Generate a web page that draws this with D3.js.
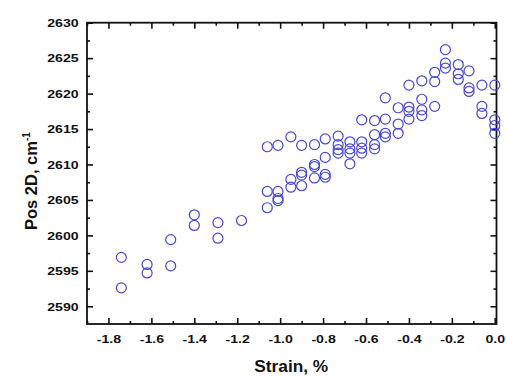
<!DOCTYPE html>
<html><head><meta charset="utf-8">
<script src="https://cdn.jsdelivr.net/npm/d3@7"></script>
<style>
body{margin:0;background:#fff;}
svg text{font-family:"Liberation Sans",Arial,sans-serif;font-weight:bold;fill:#111;}
</style></head>
<body><svg id="c" width="507" height="376"></svg>
<script>
const strain = [
 -1.74,-1.74,
 -1.62,-1.62,
 -1.51,-1.51,
 -1.40,-1.40,
 -1.29,-1.29,
 -1.18,
 -1.06,-1.06,-1.06,
 -1.01,-1.01,-1.01,-1.01,
 -0.95,-0.95,-0.95,
 -0.90,-0.90,-0.90,-0.90,
 -0.84,-0.84,-0.84,-0.84,
 -0.79,-0.79,-0.79,-0.79,
 -0.73,-0.73,-0.73,-0.73,
 -0.675,-0.675,-0.675,-0.675,
 -0.62,-0.62,-0.62,-0.62,
 -0.56,-0.56,-0.56,-0.56,
 -0.51,-0.51,-0.51,-0.51,
 -0.45,-0.45,-0.45,
 -0.40,-0.40,-0.40,-0.40,
 -0.34,-0.34,-0.34,-0.34,
 -0.28,-0.28,-0.28,
 -0.23,-0.23,-0.23,
 -0.17,-0.17,-0.17,
 -0.12,-0.12,-0.12,
 -0.06,-0.06,-0.06,
 0.00,0.00,0.00,0.00
];
const pos2D = [
 2596.9,2592.6,
 2595.9,2594.7,
 2599.4,2595.7,
 2602.9,2601.4,
 2601.8,2599.6,
 2602.1,
 2612.5,2606.2,2603.9,
 2612.7,2606.2,2605.2,2604.9,
 2613.9,2607.9,2606.8,
 2612.7,2608.9,2608.5,2607.0,
 2612.8,2610.0,2609.7,2608.1,
 2613.6,2611.0,2608.6,2608.2,
 2614.0,2612.8,2612.1,2611.6,
 2613.2,2612.2,2611.6,2610.1,
 2616.3,2613.2,2612.3,2611.6,
 2616.2,2614.2,2612.8,2612.2,
 2619.4,2616.4,2614.4,2613.9,
 2618.0,2615.7,2614.4,
 2621.2,2618.1,2617.5,2616.4,
 2621.8,2619.2,2617.7,2616.9,
 2623.0,2621.7,2618.2,
 2626.2,2624.3,2623.6,
 2624.1,2622.8,2622.0,
 2623.2,2620.8,2620.3,
 2621.2,2618.2,2617.2,
 2621.2,2616.3,2615.5,2614.4
];
const xTicks = [-1.8,-1.6,-1.4,-1.2,-1.0,-0.8,-0.6,-0.4,-0.2,0.0];
const xTickLabels = ["-1.8","-1.6","-1.4","-1.2","-1.0","-0.8","-0.6","-0.4","-0.2","0.0"];
const xMinor = [-1.9,-1.7,-1.5,-1.3,-1.1,-0.9,-0.7,-0.5,-0.3,-0.1];
const yTicks = [2590,2595,2600,2605,2610,2615,2620,2625,2630];
const yMinor = [2592.5,2597.5,2602.5,2607.5,2612.5,2617.5,2622.5,2627.5];
const xTitle = "Strain, %";
const yTitle = "Pos 2D, cm";

const L=87, R=496.5, T=22.7, B=324;
const svg = d3.select("#c");
const x = d3.scaleLinear().domain([-1.9,0.008]).range([L,R]);
const y = d3.scaleLinear().domain([2587.5,2630]).range([B,T]);

function styleAxis(g){
  g.select(".domain").remove();
  g.selectAll(".tick line").attr("stroke","#111").attr("stroke-width",1.6);
  g.selectAll("text").attr("font-size",11.8).attr("fill","#111").each(function(){
    const t = d3.select(this);
    const tx = +t.attr("x") || 0, ty = +t.attr("y") || 0;
    t.attr("x",0).attr("y",0).attr("transform",`translate(${tx},${ty}) scale(1.2,1)`);
  });
}
// bottom
svg.append("g").attr("transform",`translate(0,${B})`)
  .call(d3.axisBottom(x).tickValues(xTicks).tickSize(-6).tickPadding(10.6).tickFormat((d,i)=>xTickLabels[i]))
  .call(styleAxis);
svg.append("g").attr("transform",`translate(0,${B})`)
  .call(d3.axisBottom(x).tickValues(xMinor).tickSize(-3).tickFormat(""))
  .call(styleAxis);
// top
svg.append("g").attr("transform",`translate(0,${T})`)
  .call(d3.axisTop(x).tickValues(xTicks).tickSize(-6).tickFormat(""))
  .call(styleAxis);
svg.append("g").attr("transform",`translate(0,${T})`)
  .call(d3.axisTop(x).tickValues(xMinor).tickSize(-3).tickFormat(""))
  .call(styleAxis);
// left
svg.append("g").attr("transform",`translate(${L},0)`)
  .call(d3.axisLeft(y).tickValues(yTicks).tickSize(-6).tickPadding(8.3).tickFormat(d3.format("d")))
  .call(styleAxis);
svg.append("g").attr("transform",`translate(${L},0)`)
  .call(d3.axisLeft(y).tickValues(yMinor).tickSize(-3).tickFormat(""))
  .call(styleAxis);
// right
svg.append("g").attr("transform",`translate(${R},0)`)
  .call(d3.axisRight(y).tickValues(yTicks).tickSize(-6).tickFormat(""))
  .call(styleAxis);
svg.append("g").attr("transform",`translate(${R},0)`)
  .call(d3.axisRight(y).tickValues(yMinor).tickSize(-3).tickFormat(""))
  .call(styleAxis);

svg.append("rect").attr("x",L).attr("y",T).attr("width",R-L).attr("height",B-T)
  .attr("fill","none").attr("stroke","#111").attr("stroke-width",1.8);

svg.append("g").selectAll("circle").data(strain.map((s,i)=>[s,pos2D[i]]))
  .join("circle")
  .attr("cx",d=>x(d[0])).attr("cy",d=>y(d[1])).attr("r",5)
  .attr("fill","none").attr("stroke","#4848d4").attr("stroke-width",1.2);

svg.append("text").attr("transform",`translate(${(L+R)/2-0.5},371.5) scale(1.06,1)`).attr("text-anchor","middle")
  .attr("font-size",16.3).text(xTitle);

const yt = svg.append("text").attr("transform","translate(37.3,230) rotate(-90)")
  .attr("font-size",16.5);
yt.append("tspan").text(yTitle);
yt.append("tspan").attr("font-size",10).attr("dy",-7).text("-1");
</script></body></html>
